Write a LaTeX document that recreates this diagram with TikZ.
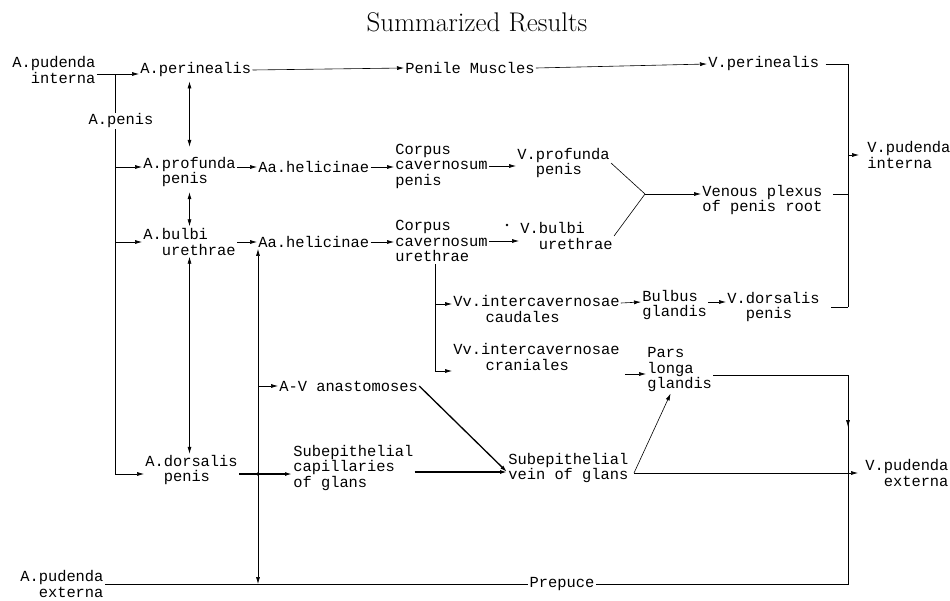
\documentclass[tikz,border=0pt]{standalone}
\usepackage{fontspec}
\newfontfamily\vesselfont{Liberation Mono}
\usetikzlibrary{positioning,arrows.meta}
\newcommand\vessel{\vesselfont\fontsize{15.4}{15.5}\selectfont}
\newcommand\tpad[1]{\hspace*{\dimexpr#1em*6/10\relax}}

\begin{document}
\begin{tikzpicture}[
  x=1pt, y=-1pt,
  every node/.style={font=\vessel, inner sep=1pt, anchor=west, align=left},
  every path/.style={line width=0.6pt, >={Latex[length=7pt,width=4pt]}},
  heavy/.style={line width=1.3pt},
  ]
  \useasboundingbox (0,0) rectangle (950,600);
  \node[anchor=center, font=\fontsize{27}{32}\selectfont\addfontfeature{LetterSpace=6}]
    (title) at (477,22) {Summarized Results};
  % arteries
  \node (artPudInt)     at (11,70)  {A.pudenda\\\tpad{2}interna};
  \node (artPerinealis) at (139,70) {A.perinealis};
  \node[anchor=center] (artPenis) at (121,121) {A.penis};
  \node (artProfunda)   at (142,172) {A.profunda\\\tpad{2}penis};
  \node (artBulbi)      at (142,242) {A.bulbi\\\tpad{2}urethrae};
  \node (artDorsalis)   at (144,470) {A.dorsalis\\\tpad{2}penis};
  \node (artPudExt)     at (19,584)  {A.pudenda\\\tpad{2}externa};
  \node (helicA)        at (257,167) {Aa.helicinae};
  \node (helicB)        at (257,242) {Aa.helicinae};
  \node (avAnast)       at (278,386) {A-V anastomoses};
  \node (capGlans)      at (292,468) {Subepithelial\\capillaries\\of glans};
  % tissues
  \node (musPenile)     at (404,68)  {Penile Muscles};
  \node (corpPenis)     at (394,166) {Corpus\\cavernosum\\penis};
  \node (corpUrethrae)  at (394,241) {Corpus\\cavernosum\\urethrae};
  \node (bulbGlandis)   at (641,305) {Bulbus\\glandis};
  \node (parsLonga)     at (646,370) {Pars\\longa\\glandis};
  \node[anchor=center] (prepuce) at (562,584) {Prepuce};
  % veins
  \node (venPerinealis) at (707,64)  {V.perinealis};
  \node (venProfunda)   at (516,163) {V.profunda\\\tpad{2}penis};
  \node (venBulbi)      at (519,236) {V.bulbi\\\tpad{2}urethrae};
  \node (venPlexus)     at (701,200) {Venous plexus\\of penis root};
  \node (venPudInt)     at (866,155) {V.pudenda\\interna};
  \node (venCaudales)   at (452,309) {Vv.intercavernosae\\\tpad{3.5}caudales};
  \node (venCraniales)  at (452,357) {Vv.intercavernosae\\\tpad{3.5}craniales};
  \node (venDorsalis)   at (726,307) {V.dorsalis\\\tpad{2}penis};
  \node (veinGlans)     at (507,468) {Subepithelial\\vein of glans};
  \node (venPudExt)     at (864,473) {V.pudenda\\\tpad{2}externa};

  \coordinate (penisFork)  at (115,74);
  \coordinate (dorsFork)   at (258,474);
  \coordinate (plexusFork) at (645,194);
  \coordinate (urethFork)  at (435,264);
  \coordinate (glansOut)   at (634,473);
  \coordinate (trunk)      at (848,0);
  \path (venCaudales.west) ++(0,-5) coordinate (caudIn);
  \path (parsLonga.west) ++(0,4) coordinate (longaIn);
  \path (parsLonga.east) ++(0,5) coordinate (longaOut);

  \draw[->] ([yshift=-4pt]artPudInt.east) -- ([yshift=-4pt]artPerinealis.west);
  \draw[->] (artPerinealis.east) -- (musPenile.west);
  \draw[->] (musPenile.east) -- (venPerinealis.west);
  \draw (penisFork) -- (penisFork |- artPenis.north);
  \draw[->] (penisFork |- artPenis.south) |- ([yshift=-4pt]artDorsalis.west);
  \draw[->] (penisFork |- helicA) -- (artProfunda.west |- helicA);
  \draw[->] (penisFork |- artBulbi) -- (artBulbi.west);
  \draw[<->, shorten <=3pt, shorten >=9pt] (artPerinealis.south -| artProfunda) -- (artProfunda.north);
  \draw[<->, shorten <=4pt, shorten >=1pt] (artProfunda.south) -- (artBulbi.north -| artProfunda.south);
  \draw[<->] (artBulbi.south) -- (artDorsalis.north -| artBulbi.south);
  \draw[->] (artProfunda.east |- helicA) -- (helicA.west);
  \draw[->] (artBulbi.east |- helicB) -- (helicB.west);
  \draw[->] (helicA.east) -- (corpPenis.west |- helicA.east);
  \draw[->] (helicB.east) -- (corpUrethrae.west |- helicB.east);
  \draw[->] (corpPenis.east) -- (venProfunda.west |- corpPenis.east);
  \draw[->] (corpUrethrae.east) -- (venBulbi.west |- corpUrethrae.east);
  \fill (507,225) circle (1.3pt);
  \draw (venProfunda.east) -- (plexusFork);
  \draw (venBulbi.east) -- (plexusFork);
  \draw[->] (plexusFork) -- (plexusFork -| venPlexus.west);
  \draw[shorten <=5pt] (venPerinealis.east) -| (trunk |- venDorsalis);
  \draw[shorten <=10pt] (venDorsalis.east) -- (trunk |- venDorsalis);
  \draw[shorten <=9pt] (venPlexus.east |- plexusFork) -- (trunk |- plexusFork);
  \draw[->, shorten >=7pt] (trunk |- venPudInt) -- (venPudInt.west);
  \draw[->] (urethFork) |- ([yshift=-14pt]venCraniales.west);
  \draw[->] (urethFork |- caudIn) -- (caudIn);
  \draw[->] ([yshift=6pt]venCaudales.east) -- ([yshift=3pt]bulbGlandis.west);
  \draw[->] ([yshift=3pt]bulbGlandis.east) -- ([yshift=5pt]venDorsalis.west);
  \draw[->, shorten <=4pt] (venCraniales.east |- longaIn) -- (longaIn);
  \draw (longaOut) -| (trunk |- prepuce) -- (prepuce.east);
  \draw[->] (trunk |- longaOut) -- ++(0,52);
  \draw (artPudExt.east) -- (prepuce.west);
  \draw[->] (glansOut) -- ([xshift=-9pt]parsLonga.south);
  \draw[->, shorten >=6pt] (glansOut) -- (glansOut -| venPudExt.west);
  \draw[->, heavy] (artDorsalis.east |- dorsFork) -- (capGlans.west |- dorsFork);
  \draw[->, heavy] ([yshift=-4pt]capGlans.east) -- ([yshift=-4pt]veinGlans.west);
  \draw[->, heavy] (avAnast.east) -- ([yshift=-4pt]veinGlans.west);
  \fill (dorsFork) circle (1.8pt);
  \draw[->] (dorsFork) -- (dorsFork |- helicB.south);
  \draw[->] (dorsFork) -- (dorsFork |- prepuce);
  \draw[->] (dorsFork |- avAnast) -- (avAnast.west);
\end{tikzpicture}
\end{document}
